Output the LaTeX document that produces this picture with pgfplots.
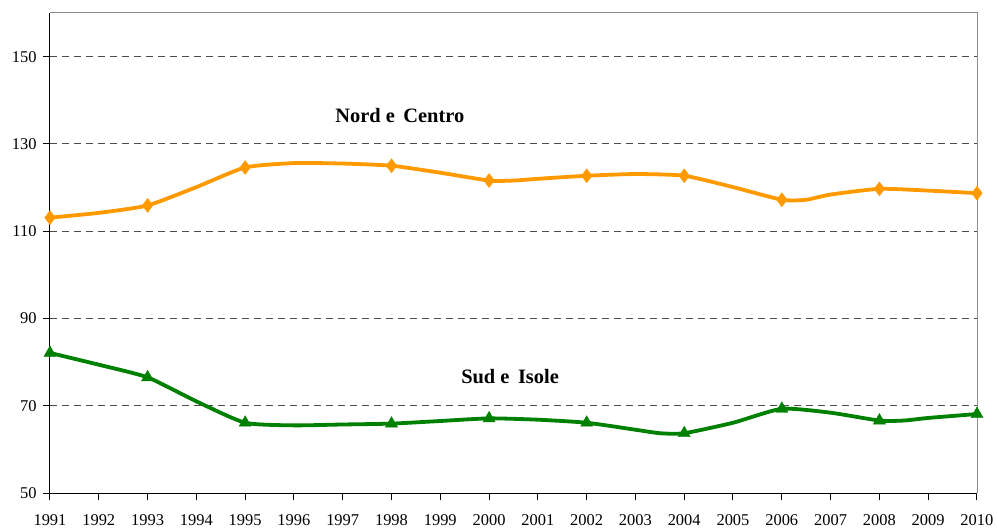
\documentclass[border=0pt]{standalone}
\usepackage{pgfplots}
\pgfplotsset{compat=1.18}
\usepackage{fontspec}
\setmainfont{Liberation Serif}
\definecolor{orangeS}{HTML}{FF9900}
\definecolor{greenS}{HTML}{008000}
\begin{document}
\begin{tikzpicture}
\begin{axis}[
  scale only axis,
  width=927bp, height=480bp,
  xmin=1991, xmax=2010,
  ymin=50, ymax=160,
  xtick={1991,1992,...,2010},
  ytick={50,70,90,110,130,150},
  axis x line*=bottom, axis y line*=left,
  axis line style={black, line width=1bp, -},
  tick style={black, line width=1bp},
  tick align=outside,
  major tick length=7bp,
  ymajorgrids,
  major grid style={dash pattern=on 7bp off 5bp, color=black!70, line width=0.9bp},
  /pgf/number format/assume math mode=true,
  /pgf/number format/1000 sep={},
  tick label style={font=\fontsize{16.5}{19}\selectfont},
  xticklabel style={yshift=-11bp},
  yticklabel style={xshift=-3bp},
  clip=false,
]
\draw[black!45, line width=1bp] (rel axis cs:0,1) -- (rel axis cs:1,1) -- (rel axis cs:1,0);
% Nord e Centro
\addplot[orangeS, line width=3.8bp, smooth, tension=0.35, no markers] coordinates {
(1991,113.1) (1992,114.2) (1993,115.9) (1994,120.1) (1995,124.6) (1996,125.6)
(1997,125.5) (1998,125.0) (1999,123.4) (2000,121.6) (2000.5,121.6) (2001,122.0)
(2002,122.7) (2003,123.1) (2004,122.7) (2005,120.1) (2006,117.2) (2006.5,117.2)
(2007,118.4) (2008,119.7) (2009,119.3) (2010,118.7)
};
\addplot[only marks, mark=diamond*, mark size=7bp, color=orangeS] coordinates {
(1991,113.1) (1993,115.9) (1995,124.6) (1998,125.0) (2000,121.6)
(2002,122.7) (2004,122.7) (2006,117.2) (2008,119.7) (2010,118.7)
};
% Sud e Isole
\addplot[greenS, line width=3.8bp, smooth, tension=0.35, no markers] coordinates {
(1991,82.1) (1992,79.4) (1993,76.5) (1994,71.0) (1995,66.1) (1996,65.5)
(1997,65.7) (1998,65.9) (1999,66.5) (2000,67.1) (2001,66.8) (2002,66.1)
(2003,64.5) (2003.5,63.7) (2004,63.7) (2005,66.1) (2006,69.3) (2007,68.4)
(2008,66.6) (2008.5,66.6) (2009,67.2) (2010,68.1)
};
\addplot[only marks, mark=triangle*, mark size=7bp, color=greenS] coordinates {
(1991,82.1) (1993,76.5) (1995,66.1) (1998,65.9) (2000,67.1)
(2002,66.1) (2004,63.7) (2006,69.3) (2008,66.6) (2010,68.1)
};
\node[font=\fontsize{20.5}{24}\selectfont\bfseries, inner sep=0pt] at (axis cs:1998.17,136.6) {Nord e\, Centro};
\node[font=\fontsize{20.5}{24}\selectfont\bfseries, inner sep=0pt] at (axis cs:2000.43,76.6) {Sud e\, Isole};
\coordinate (ll) at (rel axis cs:0,0);
\coordinate (ur) at (rel axis cs:1,1);
\end{axis}
\pgfresetboundingbox
\path ([shift={(-50bp,-37bp)}]ll) rectangle ([shift={(20bp,13bp)}]ur);
\end{tikzpicture}
\end{document}
